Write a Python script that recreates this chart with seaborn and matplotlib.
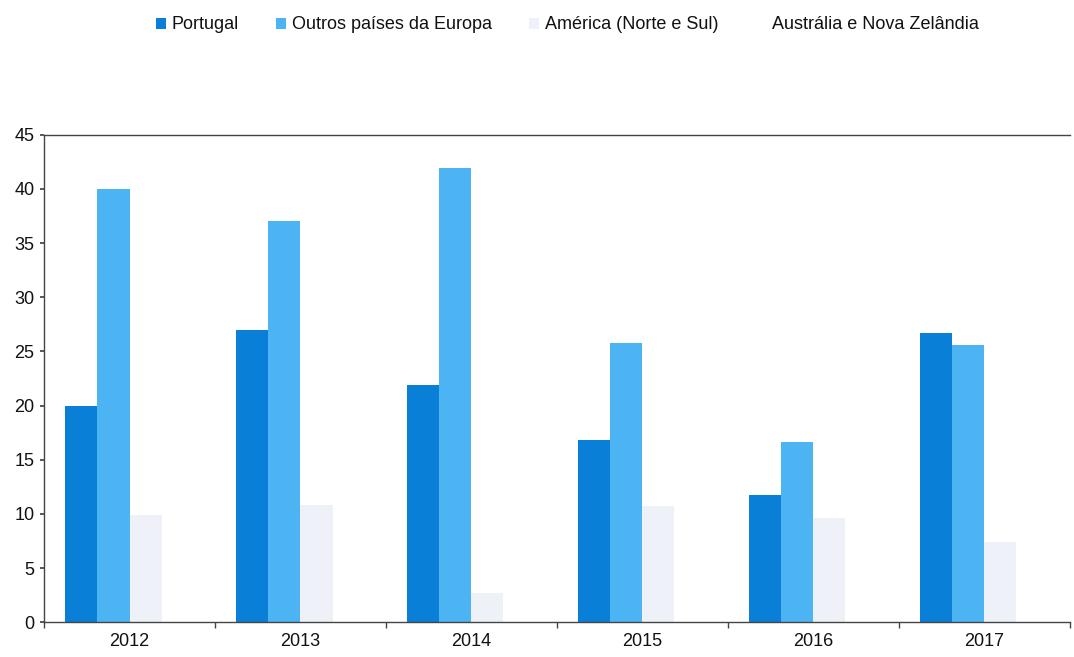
import numpy as np
import pandas as pd
import matplotlib
matplotlib.use("Agg")
import matplotlib.pyplot as plt
import seaborn as sns
from matplotlib.patches import Patch
from matplotlib.ticker import FixedLocator

years = ["2012", "2013", "2014", "2015", "2016", "2017"]
series = ["Portugal", "Outros países da Europa", "América (Norte e Sul)", "Austrália e Nova Zelândia"]
portugal = [20.0, 27.0, 21.9, 16.8, 11.7, 26.7]
europa = [40.0, 37.0, 41.9, 25.8, 16.6, 25.6]
america = [9.9, 10.8, 2.7, 10.7, 9.6, 7.4]
australia = [0, 0, 0, 0, 0, 0]
colors = ["#0a7fd8", "#4db4f4", "#eef1f7", "#ffffff"]

df = pd.DataFrame({
    "Ano": years * 4,
    "Serie": sum([[s] * len(years) for s in series], []),
    "Valor": portugal + europa + america + australia,
})

sns.set_theme(style="white")
plt.rcParams["font.family"] = ["Liberation Sans", "DejaVu Sans"]

fig = plt.figure(figsize=(10.74, 6.57), dpi=100)
ax = fig.add_axes([0.041, 0.053, 0.955, 0.742])
sns.barplot(data=df, x="Ano", y="Valor", hue="Serie", hue_order=series,
            palette=colors, width=0.75, saturation=1, ax=ax, legend=False,
            linewidth=0, edgecolor="none")

ax.set_ylim(0, 45)
ax.set_xlim(-0.5, 5.5)
ax.set_yticks(np.arange(0, 46, 5))
ax.set_xlabel("")
ax.set_ylabel("")
ax.tick_params(axis="y", labelsize=13, length=3, color="#444444", labelcolor="#111111", pad=4, left=True)
ax.tick_params(axis="x", which="major", labelsize=13, length=0, pad=8, labelcolor="#111111")
ax.xaxis.set_minor_locator(FixedLocator(np.arange(-0.5, 6, 1)))
ax.tick_params(axis="x", which="minor", length=4, color="#444444", bottom=True)
for s in ["left", "bottom", "top"]:
    ax.spines[s].set_visible(True)
    ax.spines[s].set_color("#444444")
    ax.spines[s].set_linewidth(1.0)
ax.spines["right"].set_visible(False)

handles = [Patch(facecolor=c, edgecolor="none") for c in colors]
leg = fig.legend(handles, series, loc="center", bbox_to_anchor=(0.528, 0.962), ncol=4,
                 frameon=False, fontsize=13, handlelength=0.55, handleheight=0.55,
                 handletextpad=0.3, columnspacing=2.1)
for t in leg.get_texts():
    t.set_color("#111111")

fig.savefig("out.png", dpi=100)
